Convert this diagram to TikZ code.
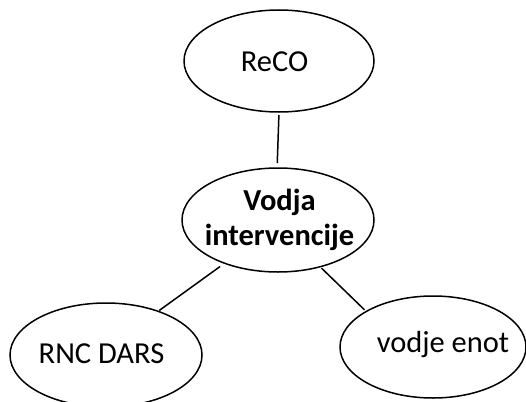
\documentclass[tikz,border=0pt]{standalone}
\usepackage{fontspec}
\setmainfont{Carlito}
\usetikzlibrary{shapes.geometric}
\begin{document}
\begin{tikzpicture}[x=1pt,y=-1pt,
  bub/.style={draw, ellipse, line width=1.5pt, inner sep=0pt, outer sep=0pt},
  lbl/.style={font=\fontsize{30.5}{35}\selectfont, inner sep=0pt, align=center},
  link/.style={line width=1.5pt}]
\useasboundingbox (0,0) rectangle (526,401);
\node[bub, minimum width=190pt, minimum height=102pt] (reco) at (279,61) {};
\node[bub, minimum width=192pt, minimum height=104pt] (vodja) at (278,220) {};
\node[bub, minimum width=192pt, minimum height=104pt] (rnc) at (106,355) {};
\node[bub, minimum width=186pt, minimum height=102pt] (enot) at (433,347) {};
\node[lbl, anchor=base] (trec) at (274.5,72) {ReCO};
\node[lbl, font=\fontsize{30.5}{35}\selectfont\bfseries] (tvod) at (279.5,220) {Vodja\\intervencije};
\node[lbl, anchor=base] (trnc) at (101.5,363) {RNC DARS};
\node[lbl, anchor=base] (tenot) at (443,352) {vodje enot};
\draw[link, shorten <=3pt, shorten >=5pt] (reco.270) -- (vodja.91);
\draw[link, shorten <=5.6pt, shorten >=1.4pt] (vodja.219.5) -- (rnc.40.9);
\draw[link, shorten <=2pt, shorten >=2.4pt] (vodja.312.5) -- (enot.152.8);
\end{tikzpicture}
\end{document}
